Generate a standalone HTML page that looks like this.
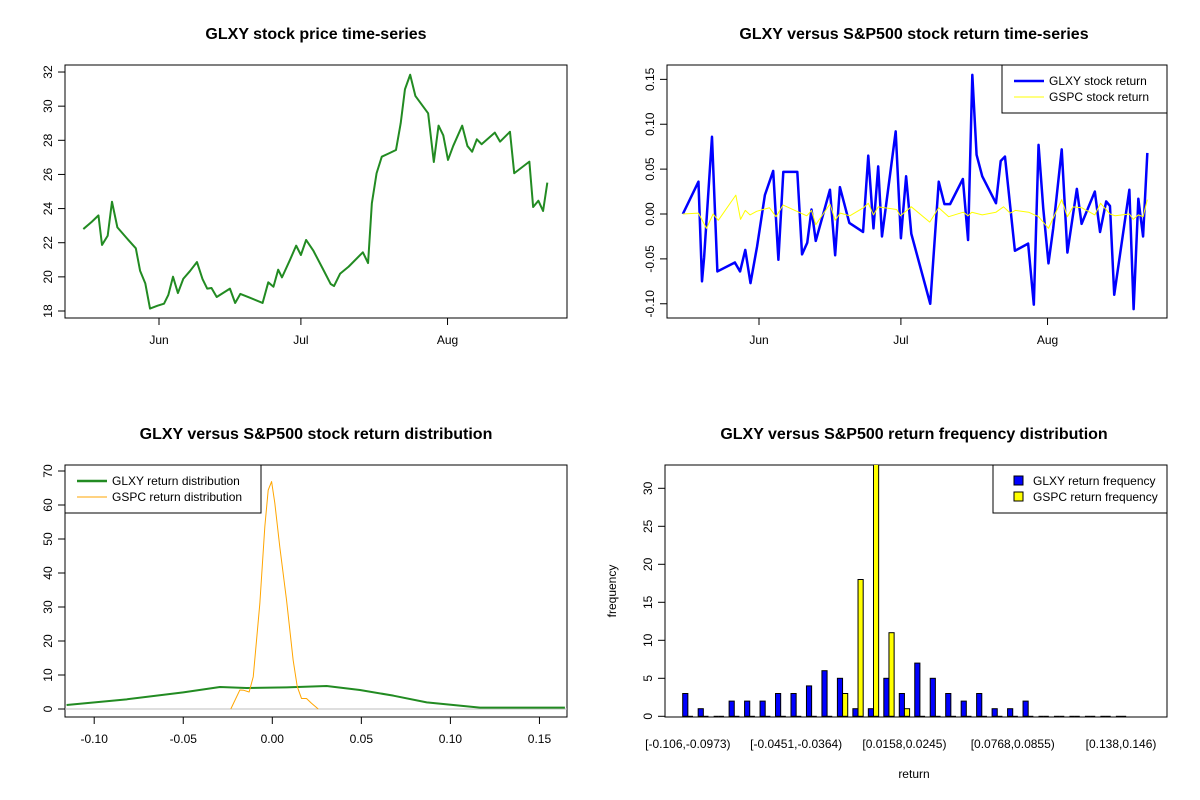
<!DOCTYPE html>
<html><head><meta charset="utf-8"><style>
html,body{margin:0;padding:0;background:#fff;}
svg{display:block;font-family:"Liberation Sans",Arial,sans-serif;}
</style></head><body>
<svg id="c" width="1200" height="800" viewBox="0 0 1200 800"></svg>
<script>
// ---- data: panel 1 price ----
const priceDays=[-16,-14.2,-12.8,-12.05,-10.85,-9.94,-8.8,-6.8,-4.9,-4,-2.9,-1.9,-0.3,1.06,1.97,2.96,4,5.14,6.55,8.03,9.2,10.2,11.1,12.2,15,16.1,17.2,19.2,21.9,23.1,24.2,25.2,26,27.7,29,30,31.1,32.6,34.7,36.3,37,38.3,40.1,43.1,44.2,45,46,47.1,48.5,50.1,51.1,52,53.1,54.2,56.9,58.1,59.1,60.1,61.1,62.2,64.1,65.2,66.2,67.2,68.2,71,72.1,74.2,75.1,78.3,79.1,80.2,81.2,82.1];
const priceVals=[22.8,23.23,23.6,21.87,22.41,24.4,22.9,22.26,21.67,20.36,19.62,18.14,18.31,18.43,18.94,20.01,19.05,19.89,20.34,20.87,19.87,19.31,19.35,18.82,19.31,18.47,19.0,18.78,18.47,19.68,19.42,20.42,19.97,21.0,21.83,21.28,22.16,21.55,20.44,19.58,19.46,20.19,20.6,21.44,20.81,24.31,26.07,27.04,27.22,27.43,29.0,30.99,31.84,30.6,29.58,26.73,28.86,28.29,26.85,27.67,28.86,27.67,27.33,28.06,27.77,28.45,27.92,28.5,26.07,26.75,24.09,24.46,23.86,25.52];
const priceTicks=[18,20,22,24,26,28,30,32];
const monthLabels=["Jun","Jul","Aug"];
const monthDays=[0,30,61];
// ---- panel 2 returns ----
const glxyDays=[-16.1,-12.8,-12.05,-11.6,-9.94,-8.8,-5.1,-4,-2.9,-1.8,-0.4,1.24,3,4.1,5.14,8.1,9.1,10.2,11.1,12,15,16.1,17.1,19.1,22,23.1,24.2,25.2,26,28.9,30,31.1,32.2,36.2,38,39.2,40.4,43.1,44.2,45.1,46,47.2,50.1,51.1,52,54.1,56.9,58.1,59.1,60.1,61.2,62.2,64,65.2,67.2,68.2,71,72.1,73.4,74.2,75.1,78.3,79.2,80.2,81.2,82.1];
const glxyRet=[0,0.036,-0.075,-0.048,0.086,-0.064,-0.054,-0.064,-0.040,-0.077,-0.036,0.021,0.048,-0.051,0.047,0.047,-0.045,-0.032,0.005,-0.030,0.027,-0.046,0.030,-0.010,-0.020,0.065,-0.016,0.053,-0.025,0.092,-0.027,0.042,-0.022,-0.100,0.036,0.011,0.011,0.039,-0.029,0.155,0.066,0.042,0.012,0.059,0.064,-0.041,-0.033,-0.101,0.077,0.006,-0.055,-0.016,0.072,-0.043,0.028,-0.011,0.025,-0.020,0.014,0.009,-0.090,0.027,-0.106,0.017,-0.025,0.068];
const gspcDays=[-16.1,-12.8,-11.1,-9.7,-8.6,-4.9,-3.9,-2.9,-1.9,-0.5,2.2,3.6,5.1,8,10.1,11.1,12,15,16.1,17.2,19.2,22.1,23.1,24.2,25.2,29.1,29.9,32.2,36.1,38,40.1,43.2,44.2,45,47.2,50.1,51.7,53.1,54.2,57,59.1,61.2,64,65.2,66.4,68.2,71,72.2,74.2,75.3,78.3,79.1,80.2,81.2,82.1];
const gspcRet=[0,0.001,-0.016,0,-0.007,0.021,-0.006,0.004,-0.001,0.003,0.007,-0.003,0.010,0.003,-0.002,0.004,-0.012,0.011,-0.007,0.001,-0.002,0.007,0.012,-0.001,0.008,0.005,-0.002,0.008,-0.009,0.007,-0.003,0.002,-0.002,0.002,-0.001,0.002,0.008,0.001,0.004,0.002,-0.003,-0.016,0.016,-0.003,0.008,0.007,-0.001,0.012,0,-0.002,0,-0.006,-0.001,-0.003,0.016];
const retTicks=[-0.10,-0.05,0.00,0.05,0.10,0.15];
// ---- panel 3 densities ----
const glxyDenX=[-0.1155,-0.0818,-0.05,-0.0294,-0.0144,0.008,0.0305,0.0492,0.068,0.0867,0.1166,0.1643];
const glxyDenY=[1.18,2.84,4.9,6.47,6.18,6.37,6.76,5.59,3.92,1.96,0.39,0.39];
const gspcDenX=[-0.0233,-0.0182,-0.016,-0.013,-0.0107,-0.007,-0.0042,-0.0023,-0.0004,0.0014,0.0042,0.008,0.0117,0.014,0.0164,0.0192,0.022,0.0258];
const gspcDenY=[0,5.6,5.5,5.0,9.5,31,53.6,64.4,66.9,60.6,47.7,32,14.4,6.6,3.1,3.1,1.7,0];
const denXTicks=[-0.10,-0.05,0.00,0.05,0.10,0.15];
const denYTicks=[0,10,20,30,40,50,60,70];
// ---- panel 4 histogram ----
const glxyFreq=[3,1,0,2,2,2,3,3,4,6,5,1,1,5,3,7,5,3,2,3,1,1,2,0,0,0,0,0,0];
const gspcFreq=[0,0,0,0,0,0,0,0,0,0,3,18,37,11,1,0,0,0,0,0,0,0,0,0,0,0,0,0,0];
const binLabels=["[-0.106,-0.0973)","[-0.0451,-0.0364)","[0.0158,0.0245)","[0.0768,0.0855)","[0.138,0.146)"];
const binLabelIdx=[0,7,14,21,28];
const freqTicks=[0,5,10,15,20,25,30];

const NS="http://www.w3.org/2000/svg";
const svg=document.getElementById('c');
function mk(tag,attrs,parent,text){const e=document.createElementNS(NS,tag);for(const k in attrs)e.setAttribute(k,attrs[k]);if(text!==undefined)e.textContent=text;(parent||svg).appendChild(e);return e;}
function fmt(v,d){return v.toFixed(d);}

function frame(x0,y0,x1,y1,name,title,tx){
  const g=mk('g',{});
  
  
  const t=mk('text',{x:tx,y:y0-26,'text-anchor':'middle','font-size':'16','font-weight':'bold',fill:'#000'},g,title);
  
  
  const b=mk('rect',{x:x0,y:y0,width:x1-x0,height:y1-y0,fill:'none',stroke:'#000','stroke-width':1},g);
  
  
  return g;
}
function yAxis(g,x,ticks,sy,dec,name){
  const a=mk('line',{x1:x,x2:x,y1:sy(ticks[0]),y2:sy(ticks[ticks.length-1]),stroke:'#000'},g);
  
  
  ticks.forEach(v=>{const y=sy(v);mk('line',{x1:x-7,x2:x,y1:y,y2:y,stroke:'#000'},g);
    const t=mk('text',{x:x-13,y:y,'font-size':'12','text-anchor':'middle',transform:`rotate(-90 ${x-13} ${y})`,fill:'#000'},g,fmt(v,dec));
    
    });
}
function xAxisTicks(g,y,xs,labels,name,x1,x2){
  if(x1!==undefined){const a=mk('line',{x1:x1,x2:x2,y1:y,y2:y,stroke:'#000'},g);
    
    }
  xs.forEach((x,i)=>{mk('line',{x1:x,x2:x,y1:y,y2:y+7,stroke:'#000'},g);
    const t=mk('text',{x:x,y:y+26,'font-size':'12','text-anchor':'middle',fill:'#000'},g,labels[i]);
    
    });
}
function poly(g,xs,ys,color,w,name){
  const p=mk('polyline',{points:xs.map((x,i)=>x+','+ys[i]).join(' '),fill:'none',stroke:color,'stroke-width':w,'stroke-linejoin':'round'},g);
  
  
}
function legend(g,x0,y0,x1,y1,items,name){
  const lg=mk('g',{},g);
  
  
  mk('rect',{x:x0,y:y0,width:x1-x0,height:y1-y0,fill:'#fff',stroke:'#000'},lg);
  items.forEach((it,i)=>{const yy=y0+16+i*16;
    if(it.box){mk('rect',{x:x0+21,y:yy-5,width:9,height:9,fill:it.color,stroke:'#000'},lg);}
    else mk('line',{x1:x0+12,x2:x0+42,y1:yy,y2:yy,stroke:it.color,'stroke-width':it.w},lg);
    const t=mk('text',{x:x0+(it.box?40:47),y:yy+4,'font-size':'12',fill:'#000'},lg,it.label);
    
    });
}

// Panel 1
(function(){
  const g=frame(65,65,567,318,'price-panel','GLXY stock price time-series',316);
  const sx=d=>159+d*4.73, sy=v=>311-(v-18)*17.07;
  yAxis(g,65,priceTicks,sy,0,'price-y-axis');
  xAxisTicks(g,318,monthDays.map(sx),monthLabels,'price-x-axis');
  poly(g,priceDays.map(sx),priceVals.map(sy),'#228B22',2,'price-line');
})();
// Panel 2
(function(){
  const g=frame(667,65,1167,318,'return-panel','GLXY versus S&P500 stock return time-series',914);
  const sx=d=>759+d*4.73, sy=v=>214-v*897.6;
  yAxis(g,667,retTicks,sy,2,'return-y-axis');
  xAxisTicks(g,318,monthDays.map(sx),monthLabels,'return-x-axis');
  poly(g,glxyDays.map(sx),glxyRet.map(sy),'#0000FF',2.5,'glxy-return-line');
  poly(g,gspcDays.map(sx),gspcRet.map(sy),'#FFFF00',1,'gspc-return-line');
  legend(g,1002,65,1167,113,[{color:'#0000FF',w:2.5,label:'GLXY stock return'},{color:'#FFFF00',w:1,label:'GSPC stock return'}],'return-legend');
})();
// Panel 3
(function(){
  const g=frame(65,465,567,717,'density-panel','GLXY versus S&P500 stock return distribution',316);
  const sx=v=>272.3+v*1781, sy=v=>709-v*3.4;
  const cp=mk('clipPath',{id:'cp3'},g);mk('rect',{x:65,y:465,width:502,height:252},cp);
  yAxis(g,65,denYTicks,sy,0,'density-y-axis');
  xAxisTicks(g,717,denXTicks.map(sx),denXTicks.map(v=>fmt(v,2)),'density-x-axis',sx(denXTicks[0]),sx(denXTicks[denXTicks.length-1]));
  const inner=mk('g',{'clip-path':'url(#cp3)'},g);
  mk('line',{x1:65,x2:567,y1:sy(0),y2:sy(0),stroke:'#bebebe'},inner);
  poly(inner,glxyDenX.map(sx),glxyDenY.map(sy),'#228B22',2,'glxy-density-line');
  poly(inner,gspcDenX.map(sx),gspcDenY.map(sy),'#FFA500',1,'gspc-density-line');
  legend(g,65,465,261,513,[{color:'#228B22',w:2.5,label:'GLXY return distribution'},{color:'#FFA500',w:1,label:'GSPC return distribution'}],'density-legend');
})();
// Panel 4
(function(){
  const g=frame(665,465,1167,717,'histogram-panel','GLXY versus S&P500 return frequency distribution',914);
  const pitch=15.47, bw=pitch/3, x0=682.7;
  const sy=v=>716.3-v*7.6;
  const gx=i=>x0+i*pitch;
  const cp=mk('clipPath',{id:'cp4'},g);mk('rect',{x:665,y:465,width:502,height:252},cp);
  yAxis(g,665,freqTicks,sy,0,'freq-y-axis');
  const inner=mk('g',{'clip-path':'url(#cp4)'},g);
  function bar(x,v,fill,name){
    if(v===0){const l=mk('line',{x1:x,x2:x+bw,y1:sy(0),y2:sy(0),stroke:'#000','stroke-width':1},inner);
      
      return;}
    const r=mk('rect',{x:x,y:sy(v),width:bw,height:sy(0)-sy(v),fill:fill,stroke:'#000','stroke-width':1},inner);
    
    
  }
  glxyFreq.forEach((v,i)=>bar(gx(i),v,'#0000FF','glxy-bar'));
  gspcFreq.forEach((v,i)=>bar(gx(i)+bw,v,'#FFFF00','gspc-bar'));
  binLabelIdx.forEach((idx,k)=>{const t=mk('text',{x:gx(idx)+bw,y:748,'font-size':'12','text-anchor':'middle',fill:'#000'},g,binLabels[k]);
    
    });
  const xl=mk('text',{x:914,y:778,'font-size':'12','text-anchor':'middle',fill:'#000'},g,'return');
  
  
  const yl=mk('text',{x:616,y:591,'font-size':'12','text-anchor':'middle',transform:'rotate(-90 616 591)',fill:'#000'},g,'frequency');
  
  
  legend(g,993,465,1167,513,[{color:'#0000FF',box:true,label:'GLXY return frequency'},{color:'#FFFF00',box:true,label:'GSPC return frequency'}],'histogram-legend');
})();
</script>
</body></html>
